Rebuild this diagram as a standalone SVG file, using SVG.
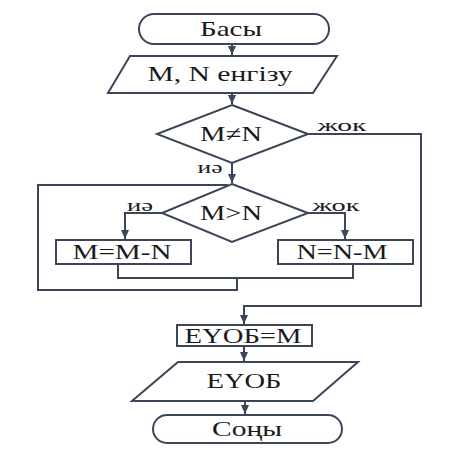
<svg xmlns="http://www.w3.org/2000/svg" width="453" height="453" viewBox="0 0 453 453">
<defs>
<marker id="ah" markerWidth="10" markerHeight="10" refX="9" refY="5" orient="auto" markerUnits="userSpaceOnUse">
<path d="M0,1 L9,5 L0,9 Z" fill="#3c4558"/>
</marker>
<style>
.s{fill:#fff;stroke:#3c4558;stroke-width:2}
.c{fill:none;stroke:#3c4558;stroke-width:2}
text{font-family:'Liberation Serif','Times New Roman','DejaVu Serif',serif;fill:#1a1a1a;text-anchor:middle;dominant-baseline:central}
.t{font-size:21px}
.l{font-size:16px}
</style>
</defs>
<rect width="453" height="453" fill="#fff"/>
<g id="connectors">
<path class="c" d="M232,44 V55" marker-end="url(#ah)"/>
<path class="c" d="M232,93 V104" marker-end="url(#ah)"/>
<path class="c" d="M232,163 V183" marker-end="url(#ah)"/>
<path class="c" d="M308,134 H421 V306 H244 V324" marker-end="url(#ah)"/>
<path class="c" d="M162,213 H125 V239" marker-end="url(#ah)"/>
<path class="c" d="M308,213 H345 V239" marker-end="url(#ah)"/>
<path class="c" d="M118,264 V278 H353 V264"/>
<path class="c" d="M237,278 V290 H38 V185 H228"/>
<path class="c" d="M244,346 V361" marker-end="url(#ah)"/>
<path class="c" d="M245,401 V414" marker-end="url(#ah)"/>
<text class="l" x="342" y="125" textLength="49" lengthAdjust="spacingAndGlyphs">жок</text>
<text class="l" x="210" y="167" textLength="25" lengthAdjust="spacingAndGlyphs">иә</text>
<text class="l" x="140" y="205" textLength="26" lengthAdjust="spacingAndGlyphs">иә</text>
<text class="l" x="336" y="205" textLength="47" lengthAdjust="spacingAndGlyphs">жок</text>
</g>
<g id="start">
<rect class="s" x="139" y="14" width="190" height="30" rx="15"/>
<text class="t" x="231" y="29" textLength="62" lengthAdjust="spacingAndGlyphs">Басы</text>
</g>
<g id="input">
<polygon class="s" points="130,56 337,56 313,93 108,93"/>
<text class="t" x="220" y="74" textLength="145" lengthAdjust="spacingAndGlyphs">М, N енгізу</text>
</g>
<g id="cond1">
<polygon class="s" points="232,105 308,134 232,163 157,134"/>
<text class="t" x="231" y="134" textLength="62" lengthAdjust="spacingAndGlyphs">М≠N</text>
</g>
<g id="cond2">
<polygon class="s" points="232,184 308,213 232,242 162,213"/>
<text class="t" x="231" y="213" textLength="62" lengthAdjust="spacingAndGlyphs">М&gt;N</text>
</g>
<g id="mmn">
<rect class="s" x="56" y="240" width="135" height="24"/>
<text class="t" x="122" y="252" textLength="99" lengthAdjust="spacingAndGlyphs">М=М-N</text>
</g>
<g id="nnm">
<rect class="s" x="278" y="240" width="135" height="24"/>
<text class="t" x="342" y="252" textLength="91" lengthAdjust="spacingAndGlyphs">N=N-M</text>
</g>
<g id="gcd">
<rect class="s" x="177" y="325" width="135" height="21"/>
<text class="t" x="243" y="336" textLength="117" lengthAdjust="spacingAndGlyphs">ЕҮОБ=М</text>
</g>
<g id="output">
<polygon class="s" points="178,362 358,362 313,401 132,401"/>
<text class="t" x="244" y="381" textLength="75" lengthAdjust="spacingAndGlyphs">ЕҮОБ</text>
</g>
<g id="end">
<rect class="s" x="153" y="415" width="189" height="28" rx="14"/>
<text class="t" x="247" y="429" textLength="70" lengthAdjust="spacingAndGlyphs">Соңы</text>
</g>
</svg>
